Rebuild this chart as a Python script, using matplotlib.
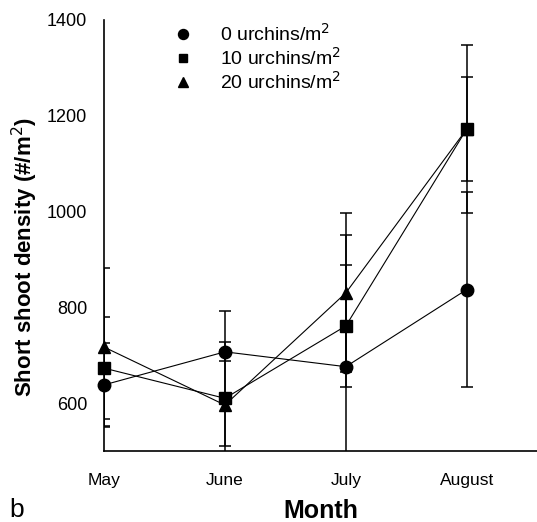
import matplotlib
matplotlib.use('Agg')
import matplotlib.pyplot as plt

plt.rcParams['font.family'] = ['Liberation Sans', 'DejaVu Sans']

# data
months = ['May', 'June', 'July', 'August']
dens_0 = [638, 707, 676, 837]
err_0 = [88, 20, 274, 204]
dens_10 = [673, 610, 761, 1172]
err_10 = [106, 100, 128, 176]
dens_20 = [717, 596, 830, 1172]
err_20 = [164, 197, 166, 108]
labels = ['0 urchins/m$^2$', '10 urchins/m$^2$', '20 urchins/m$^2$']

fig = plt.figure(figsize=(5.37, 5.22), dpi=100)
ax = fig.add_axes([0.1937, 0.136, 0.806, 0.826])

x = list(range(len(months)))
series = [(dens_0, err_0, 'o', 9), (dens_10, err_10, 's', 8), (dens_20, err_20, '^', 8.5)]
for (vals, errs, mk, ms), lab in zip(series, labels):
    # error bars get clipped at the axis, markers do not
    ax.errorbar(x, vals, yerr=errs, fmt='none', ecolor='black',
                elinewidth=1.1, capsize=4.5, capthick=1.1)
    ax.plot(x, vals, color='black', marker=mk, markersize=ms,
            linewidth=0.8, label=lab, clip_on=False, zorder=3)

ax.set_xlim(0, 3.58)
ax.set_ylim(500, 1400)
ax.set_yticks([600, 800, 1000, 1200, 1400])
ax.set_xticks(x)
ax.set_xticklabels(months, fontsize=12.5)
ax.tick_params(axis='y', length=0, pad=12, labelsize=13)
ax.tick_params(axis='x', length=0, pad=16)

for s in ['top', 'right']:
    ax.spines[s].set_visible(False)
ax.spines['left'].set_linewidth(1.2)
ax.spines['bottom'].set_linewidth(1.2)

ax.set_ylabel('Short shoot density (#/m$^2$)', fontsize=16, fontweight='bold')
ax.yaxis.set_label_coords(-0.148, 0.45)
ax.set_xlabel('Month', fontsize=18, fontweight='bold', labelpad=8)

ax.legend(loc='upper left', bbox_to_anchor=(0.155, 1.02), frameon=False,
          fontsize=14, handlelength=0, handletextpad=1.9, labelspacing=0.12,
          borderaxespad=0.2, markerscale=0.8)

fig.text(0.018, 0.01, 'b', fontsize=19)

fig.savefig('out.png', dpi=100)
